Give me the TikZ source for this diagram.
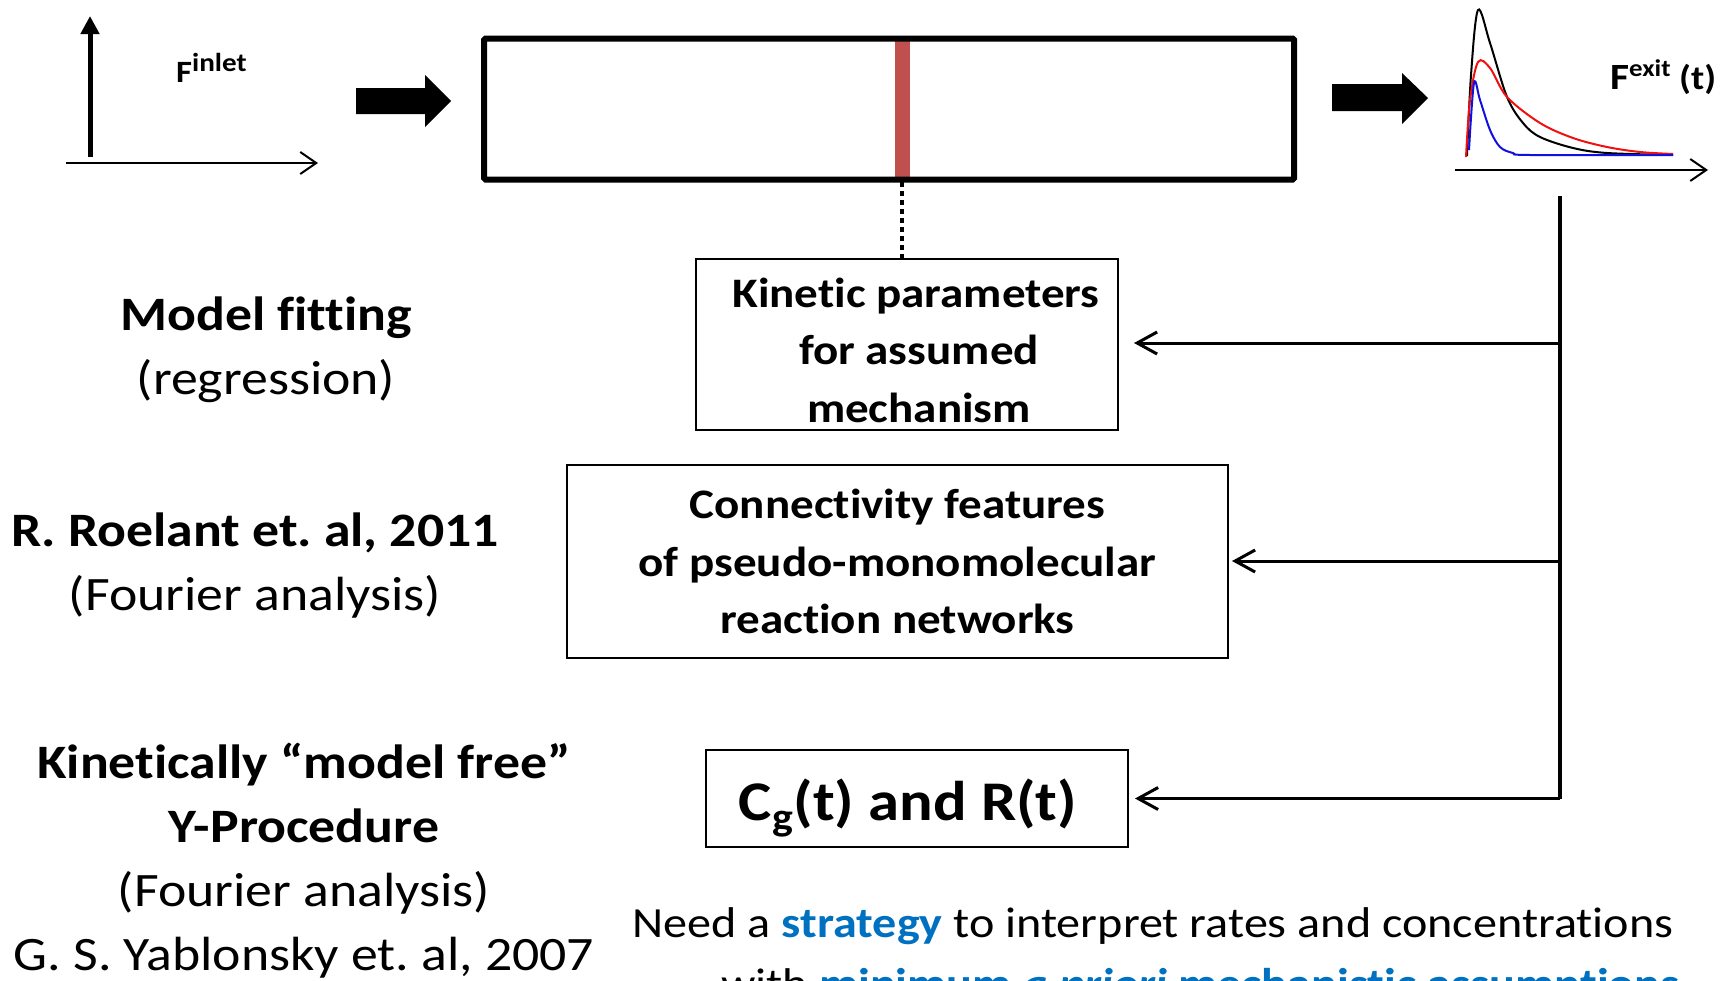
\documentclass[tikz,border=0pt]{standalone}
\usepackage{fontspec}
\setmainfont{Carlito}[FakeStretch=1.12,Ligatures=NoCommon]
\usetikzlibrary{arrows.meta,calc}
\definecolor{barred}{HTML}{C0504D}
\definecolor{txtblue}{HTML}{0070C0}
\definecolor{curvered}{HTML}{F01010}
\definecolor{curveblue}{HTML}{1010E0}
\tikzset{
  fbox/.style={draw=black, line width=2pt, inner sep=0pt},
  boxtext/.style={align=center, inner sep=0pt, font=\fontsize{42}{57.5}\selectfont\bfseries},
  lefttext/.style={align=center, font=\fontsize{48}{64}\selectfont},
  feed/.style={line width=3pt, -{Straight Barb[length=20pt,width=22pt,line width=3pt]}},
  axis/.style={line width=2pt, -{Straight Barb[length=16pt,width=22pt,line width=2pt]}},
  blockarrow/.style={fill=black, draw=none},
  curve/.style={line width=2pt, smooth, tension=0.55}
}
\begin{document}
\frenchspacing
\begin{tikzpicture}[x=1pt,y=-1pt]
\useasboundingbox (0,0) rectangle (1726,980);
\clip (0,0) rectangle (1726,980);

% inlet pulse
\coordinate (inbase) at (90,157);
\coordinate (intop) at (90,16);
\draw[line width=5pt, -{Triangle[length=18pt,width=18pt]}] (inbase) -- (intop);
\coordinate (inax0) at (66,163);
\coordinate (inax1) at (318,163);
\draw[axis] (inax0) -- (inax1);
\node[anchor=base west, inner sep=0pt, font=\fontsize{31}{31}\selectfont\bfseries] (finlet) at (176,82) {F\raisebox{11pt}{\fontsize{26}{26}\selectfont inlet}};

% block arrow 1
\fill[blockarrow] (356,88) -- (425,88) -- (425,75) -- (451,101) -- (425,127) -- (425,114) -- (356,114) -- cycle;

% reactor
\fill[barred] (894.5,38) rectangle (909.5,180);
\node[draw, line width=6pt, rounded corners=1.5pt, minimum width=810pt, minimum height=141pt, inner sep=0pt] (reactor) at (889,109) {};
\coordinate (zone) at (902,182);

% block arrow 2
\fill[blockarrow] (1332,84) -- (1402,84) -- (1402,73) -- (1428,98) -- (1402,124) -- (1402,111) -- (1332,111) -- cycle;

% exit curves
\draw[curve, black] plot coordinates {(1467,156) (1471,75) (1478,10) (1490,43) (1507,97) (1523,123) (1540,137) (1573,148) (1607,153) (1673,155)};
\draw[curve, curvered] plot coordinates {(1466,157) (1470,100) (1478,62) (1490,68) (1507,97) (1540,123) (1573,138) (1607,147) (1640,152) (1673,154)};
\draw[curve, curveblue] plot coordinates {(1469,150) (1474,83) (1480,100) (1490,130) (1500,147) (1513,153) (1530,155) (1673,155)};
\coordinate (exax0) at (1455,170);
\coordinate (exax1) at (1708,170);
\draw[axis] (exax0) -- (exax1);
\node[anchor=base west, inner sep=0pt, font=\fontsize{34}{34}\selectfont\bfseries] (fexit) at (1610,89) {{\fontsize{37}{37}\selectfont F}\raisebox{13pt}{\fontsize{24}{24}\selectfont exit} (t)};

% boxes
\node[fbox, minimum width=422pt, minimum height=171pt] (box1) at (907,344.5) {};
\node[boxtext] (box1text) at (916,350) {Kinetic parameters\\\hspace*{6pt}for assumed\\\hspace*{6pt}mechanism};
\node[fbox, boxtext, minimum width=661pt, minimum height=193pt] (box2) at (897.5,561.5) {Connectivity features\\of pseudo-monomolecular\\reaction networks};
\node[fbox, minimum width=422pt, minimum height=97pt] (box3) at (917,798.5) {};
\node[inner sep=0pt, font=\fontsize{56}{60}\selectfont\bfseries] (box3text) at (908,808) {C\textsubscript{g}(t) and R(t)};

\draw[line width=4pt, dash pattern=on 5pt off 4pt] (zone) -- (box1.north -| zone);

% feedback connectors
\coordinate (trunktop) at (1560,196);
\coordinate (trunkbot) at (1560,798.5);
\draw[line width=4pt] (trunktop) -- (trunkbot);
\coordinate (j1) at (1560,343);
\coordinate (j2) at (1560,561);
\draw[feed] (j1) -- ($(box1.east |- j1)+(15,0)$);
\draw[feed] (j2) -- ($(box2.east |- j2)+(3,0)$);
\draw[feed] (trunkbot) -- ($(box3.east |- trunkbot)+(6,0)$);

% left texts
\node[lefttext] (fit) at (266,350) {\textbf{Model fitting}\\(regression)};
\node[lefttext] (roel) at (255,566) {\textbf{R. Roelant et. al, 2011}\\(Fourier analysis)};
\node[lefttext] (yproc) at (304,861) {\textbf{Kinetically “model free”}\\\textbf{Y-Procedure}\\(Fourier analysis)\\G. S. Yablonsky et. al, 2007};

% bottom statement
\node[anchor=base, inner sep=0pt, font=\fontsize{43}{43}\selectfont] (need) at (1153,937) {Need a \textcolor{txtblue}{\bfseries strategy} to interpret rates and concentrations};
\node[anchor=base west, inner sep=0pt, font=\fontsize{43}{43}\selectfont] (with) at (721,998) {with \textcolor{txtblue}{\bfseries minimum \itshape a priori\/ \upshape mechanistic assumptions}};
\end{tikzpicture}
\end{document}
